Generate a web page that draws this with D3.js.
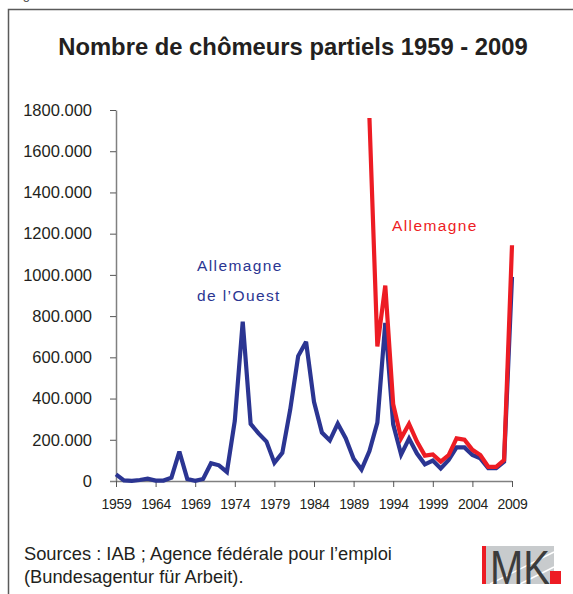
<!DOCTYPE html>
<html><head><meta charset="utf-8">
<script src="https://cdn.jsdelivr.net/npm/d3@7"></script>
<style>
html,body{margin:0;padding:0;background:#fff;}
svg{display:block;font-family:"Liberation Sans",Arial,sans-serif;}
</style></head>
<body>
<svg id="c" width="573" height="594"></svg>
<script>
// ---- data ----
const yearsWest = d3.range(1959, 2010);
const westValues = [32000,3000,1000,5000,11000,2000,2000,16000,143000,10000,
  1000,10000,86000,76000,44000,292000,773000,277000,231000,191000,
  88000,137000,347000,606000,675000,384000,235000,197000,278000,208000,
  108000,56000,145000,283000,767000,275000,128000,206000,133000,81000,
  99000,61000,102000,163000,163000,126000,110000,62000,62000,94000,990000];
const yearsAll = d3.range(1991, 2010);
const allValues = [1761000,653000,948000,372000,208000,277000,191000,123000,129000,94000,
  126000,207000,200000,151000,126000,69000,69000,102000,1144000];
const xTicks = [1959,1964,1969,1974,1979,1984,1989,1994,1999,2004,2009];
const yTicks = [0,200000,400000,600000,800000,1000000,1200000,1400000,1600000,1800000];
const yTickLabels = ["0","200.000","400.000","600.000","800.000","1000.000","1200.000","1400.000","1600.000","1800.000"];

const svg = d3.select("#c");
const blue = "#2b3592", red = "#ed1c24", axisCol = "#808080";

// frame
svg.append("path").attr("d","M8.5,594 V9.5 H573").attr("fill","none").attr("stroke","#5a5a5a").attr("stroke-width",1.5);
svg.append("text").attr("x",12).attr("y",-1).attr("font-size",13).attr("fill","#444").text("Figure 1");

// title
svg.append("text").attr("x",293).attr("y",55).attr("text-anchor","middle")
  .attr("font-size",23.8).attr("font-weight","bold").attr("fill","#231f20")
  .text("Nombre de chômeurs partiels 1959 - 2009");

const x = d3.scaleLinear().domain([1959,2009]).range([116,512]);
const y = d3.scaleLinear().domain([0,1800000]).range([481,110]);

// y axis
const ya = svg.append("g").attr("transform","translate(116,0)")
  .call(d3.axisLeft(y).tickValues(yTicks).tickSize(6).tickSizeOuter(0).tickPadding(18)
    .tickFormat((d,i)=>yTickLabels[i]));
ya.select(".domain").attr("stroke",axisCol).attr("stroke-width",1.5);
ya.selectAll(".tick line").attr("stroke","#555").attr("stroke-width",1);
ya.selectAll(".tick text").attr("font-size",16.5).attr("fill","#231f20").attr("font-family","Liberation Sans, Arial, sans-serif");

// x axis
const xa = svg.append("g").attr("transform","translate(0,481)")
  .call(d3.axisBottom(x).tickValues(xTicks).tickSize(6).tickSizeOuter(0).tickPadding(12)
    .tickFormat(d3.format("d")));
xa.select(".domain").attr("stroke",axisCol).attr("stroke-width",1.5).attr("d","M110,0.5H512");
xa.selectAll(".tick line").attr("stroke","#555").attr("stroke-width",1);
xa.selectAll(".tick text").attr("font-size",14).attr("fill","#231f20").attr("font-family","Liberation Sans, Arial, sans-serif").attr("letter-spacing",-0.3);

// lines
const line = d3.line().x(d=>x(d[0])).y(d=>y(d[1]));
svg.append("path").datum(yearsWest.map((yr,i)=>[yr,westValues[i]]))
  .attr("d",line).attr("fill","none").attr("stroke",blue).attr("stroke-width",4.2).attr("stroke-linejoin","miter").attr("stroke-miterlimit",3);
svg.append("path").datum(yearsAll.map((yr,i)=>[yr,allValues[i]]))
  .attr("d",line).attr("fill","none").attr("stroke",red).attr("stroke-width",4.2).attr("stroke-linejoin","miter").attr("stroke-miterlimit",3);

// series labels
svg.append("text").attr("x",392).attr("y",231).attr("font-size",15.5).attr("fill",red).attr("letter-spacing",1.4).text("Allemagne");
svg.append("text").attr("x",197).attr("y",271).attr("font-size",15.5).attr("fill",blue).attr("letter-spacing",1.4).text("Allemagne");
svg.append("text").attr("x",197).attr("y",301).attr("font-size",15.5).attr("fill",blue).attr("letter-spacing",1.4).text("de l’Ouest");

// sources
svg.append("text").attr("x",24).attr("y",560).attr("font-size",18.3).attr("fill","#231f20").text("Sources : IAB ; Agence fédérale pour l’emploi");
svg.append("text").attr("x",24).attr("y",583).attr("font-size",18.3).attr("fill","#231f20").text("(Bundesagentur für Arbeit).");

// IMK logo
const lg = svg.append("g");
lg.append("rect").attr("x",482).attr("y",546).attr("width",72).attr("height",38).attr("fill","#c8cbcd");
lg.append("path").attr("d","M490,584 L554,552 M520,584 L554,567").attr("stroke","#fff").attr("stroke-width",1.5);
lg.append("rect").attr("x",482).attr("y",546).attr("width",4).attr("height",38).attr("fill",red);
lg.append("text").attr("x",490).attr("y",584).attr("font-size",48).attr("font-weight",300).attr("fill","#3c3c3c")
  .attr("textLength",60).attr("lengthAdjust","spacingAndGlyphs").attr("font-family","Liberation Sans Narrow, Liberation Sans, Arial").text("MK");
lg.append("rect").attr("x",550).attr("y",571).attr("width",11).attr("height",13).attr("fill",red);
</script>
</body></html>
